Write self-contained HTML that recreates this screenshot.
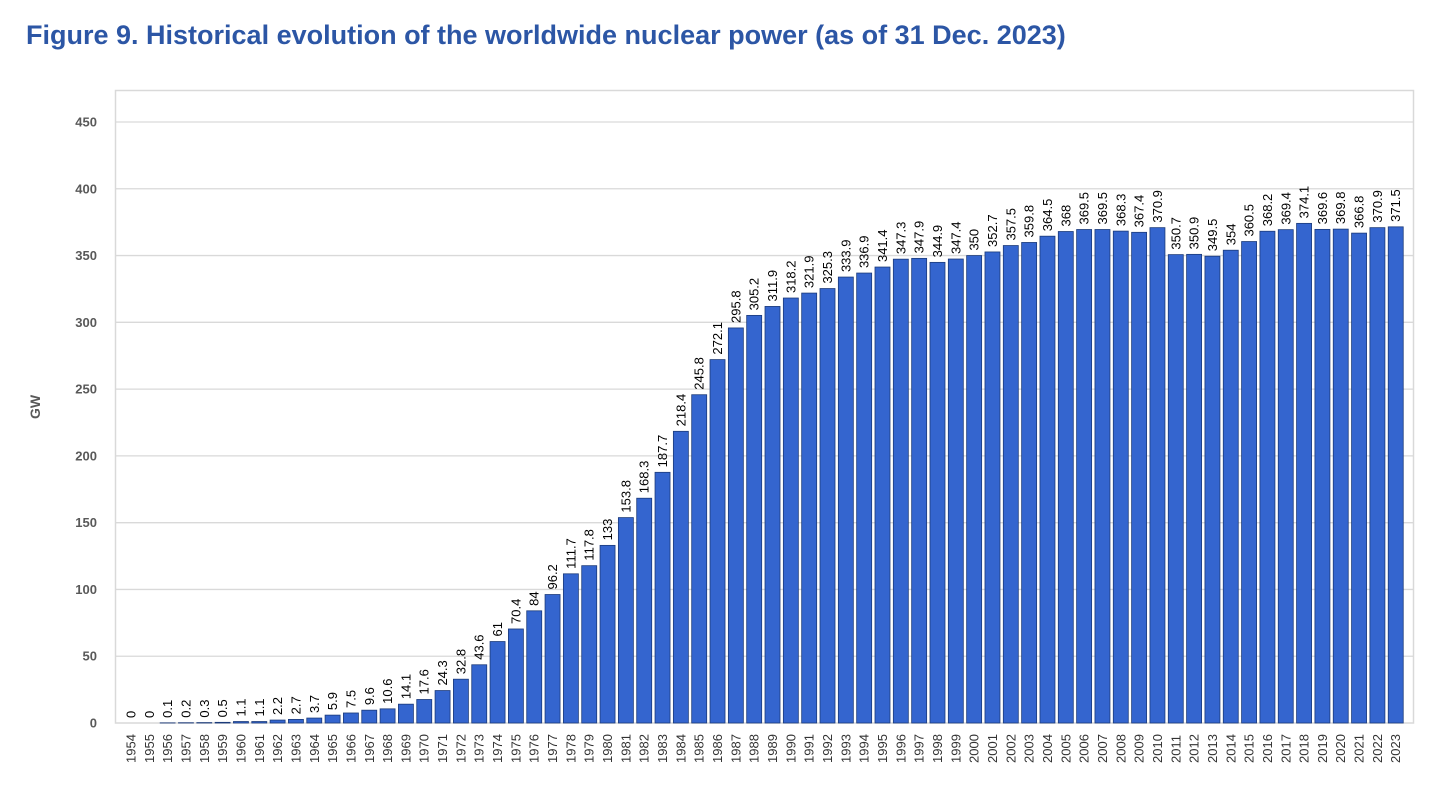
<!DOCTYPE html>
<html><head><meta charset="utf-8"><style>
body{margin:0;background:#fff;width:1456px;height:799px;overflow:hidden;font-family:"Liberation Sans",Arial,sans-serif}
#title{position:absolute;left:26px;top:20px;font-size:27px;font-weight:bold;color:#2c56a5;white-space:nowrap}
</style></head><body>
<div id="title">Figure 9. Historical evolution of the worldwide nuclear power (as of 31 Dec. 2023)</div>
<svg id="chart" width="1456" height="799" style="position:absolute;left:0;top:0"></svg>
<script>
const years=[];for(let y=1954;y<=2023;y++)years.push(String(y));
const values=[0,0,0.1,0.2,0.3,0.5,1.1,1.1,2.2,2.7,3.7,5.9,7.5,9.6,10.6,14.1,17.6,24.3,32.8,43.6,61,70.4,84,96.2,111.7,117.8,133,153.8,168.3,187.7,218.4,245.8,272.1,295.8,305.2,311.9,318.2,321.9,325.3,333.9,336.9,341.4,347.3,347.9,344.9,347.4,350,352.7,357.5,359.8,364.5,368,369.5,369.5,368.3,367.4,370.9,350.7,350.9,349.5,354,360.5,368.2,369.4,374.1,369.6,369.8,366.8,370.9,371.5];
const yTicks=[0,50,100,150,200,250,300,350,400,450];
const NS="http://www.w3.org/2000/svg";
const svg=document.getElementById('chart');
const x0=121.8,band=18.33,y0=723,yTop=122;
const yScale=v=>y0-(v/450)*(y0-yTop);
const xCenter=i=>x0+band*(i+0.5);
function mk(tag,attrs,parent){const e=document.createElementNS(NS,tag);for(const k in attrs)e.setAttribute(k,attrs[k]);(parent||svg).appendChild(e);return e;}
const frame=mk('rect',{x:115.5,y:90.5,width:1298,height:632.5,fill:'none',stroke:'#d9d9d9','stroke-width':1.5});


yTicks.forEach(t=>{
  const y=yScale(t);
  if(t>0){const g=mk('line',{x1:116,x2:1413,y1:y,y2:y,stroke:'#d9d9d9','stroke-width':1.3});
  
  }
  const l=mk('text',{x:97,y:y+4.5,'text-anchor':'end','font-size':13,'font-weight':'bold',fill:'#595959'});
  l.textContent=t;
  
  
});
const yt=mk('text',{x:0,y:0,transform:'translate(40,407) rotate(-90)','text-anchor':'middle','font-size':14,'font-weight':'bold',fill:'#595959'});
yt.textContent='GW';


values.forEach((v,i)=>{
  const cx=xCenter(i),y=yScale(v),w=15;
  if(v>0){const r=mk('rect',{x:cx-w/2,y:y,width:w,height:y0-y,fill:'#3465cf',stroke:'#1b3a7a','stroke-width':0.8});
  
  }
  const vl=mk('text',{x:0,y:0,transform:`translate(${cx+4.5},${y-5}) rotate(-90)`,'font-size':13,fill:'#000'});
  vl.textContent=String(v);
  
  
  const xl=mk('text',{x:0,y:0,transform:`translate(${cx+4.5},${763}) rotate(-90)`,'font-size':13,fill:'#333'});
  xl.textContent=years[i];
  
  
});
</script>
</body></html>
